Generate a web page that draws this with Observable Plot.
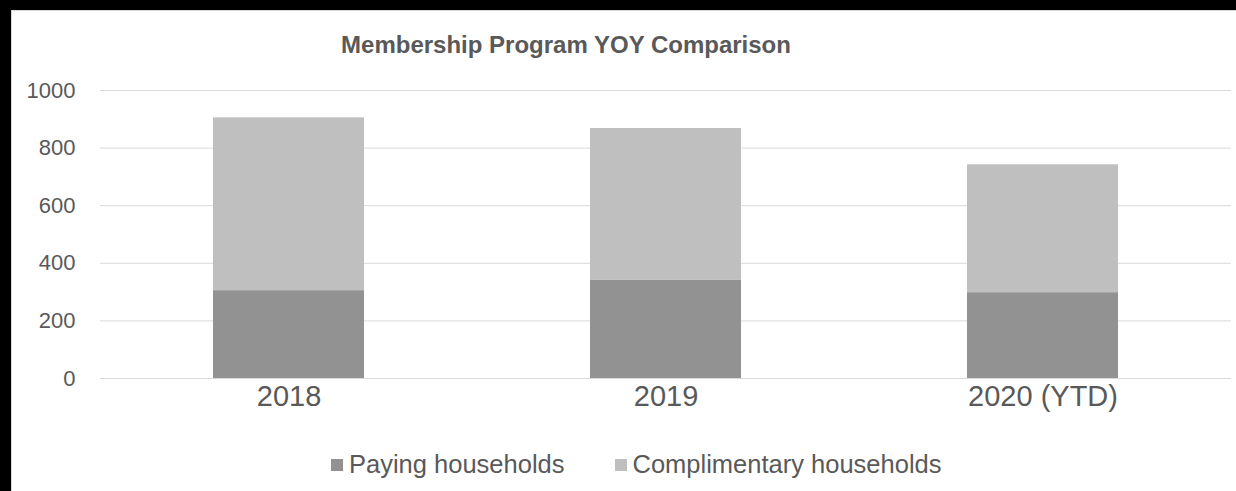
<!DOCTYPE html>
<html>
<head>
<meta charset="utf-8">
<script src="https://cdn.jsdelivr.net/npm/d3@7"></script>
<script src="https://cdn.jsdelivr.net/npm/@observablehq/plot@0.6"></script>
<style>
  html, body { margin: 0; padding: 0; }
  body { background: #000; width: 1236px; height: 491px; overflow: hidden; position: relative;
         font-family: "Liberation Sans", Arial, sans-serif; }
  #panel { position: absolute; left: 11px; top: 10px; width: 1230px; height: 485px; background: #fff;
           border-top: 1px solid #d9d9d9; border-left: 1px solid #d9d9d9; }
  #title { position: absolute; left: 0; top: 32px; width: 1132px; text-align: center;
           font-size: 24px; line-height: 26px; font-weight: bold; color: #595959; }
  #chart { position: absolute; left: 0; top: 0; }
  #legend { position: absolute; left: 331px; top: 451px; display: flex; align-items: center;
            font-size: 25.5px; line-height: 27px; color: #595959; }
  .item { display: flex; align-items: center; margin-right: 50px; }
  .sw { width: 12px; height: 12px; margin-right: 6px; }
</style>
</head>
<body>
<div id="panel"></div>
<div id="title">Membership Program YOY Comparison</div>
<div id="chart"></div>
<div id="legend"></div>
<script>
const categories = ["2018", "2019", "2020 (YTD)"];
const paying = [305, 342, 298];
const complimentary = [600, 526, 444];
const seriesNames = ["Paying households", "Complimentary households"];
const seriesColors = ["#929292", "#bfbfbf"];
const yTicks = [0, 200, 400, 600, 800, 1000];

const data = [];
categories.forEach((c, i) => {
  data.push({category: c, series: seriesNames[0], value: paying[i]});
  data.push({category: c, series: seriesNames[1], value: complimentary[i]});
});

const plot = Plot.plot({
  width: 1236,
  height: 420,
  marginLeft: 100,
  marginRight: 5,
  marginTop: 90,
  marginBottom: 42,
  style: {background: "transparent", fontFamily: "'Liberation Sans', Arial, sans-serif", color: "#595959"},
  x: {domain: categories, paddingInner: 0.6, paddingOuter: 0.3, label: null},
  y: {domain: [0, 1000], ticks: yTicks, label: null},
  color: {domain: seriesNames, range: seriesColors},
  marks: [
    Plot.gridY(yTicks, {stroke: "#d9d9d9", strokeOpacity: 1, strokeWidth: 1}),
    Plot.barY(data, {x: "category", y: "value", fill: "series", inset: 0}),
    Plot.axisY(yTicks, {tickSize: 0, tickPadding: 25, fontSize: 22, fill: "#595959", label: null, tickFormat: d => String(d)}),
    Plot.axisX({tickSize: 0, tickPadding: 7, fontSize: 29, fill: "#595959", label: null})
  ]
});
document.getElementById("chart").appendChild(plot);

const legend = document.getElementById("legend");
seriesNames.forEach((name, i) => {
  const item = document.createElement("div");
  item.className = "item";
  const sw = document.createElement("div");
  sw.className = "sw";
  sw.style.background = seriesColors[i];
  const t = document.createElement("span");
  t.textContent = name;
  item.appendChild(sw);
  item.appendChild(t);
  legend.appendChild(item);
});
</script>
</body>
</html>
